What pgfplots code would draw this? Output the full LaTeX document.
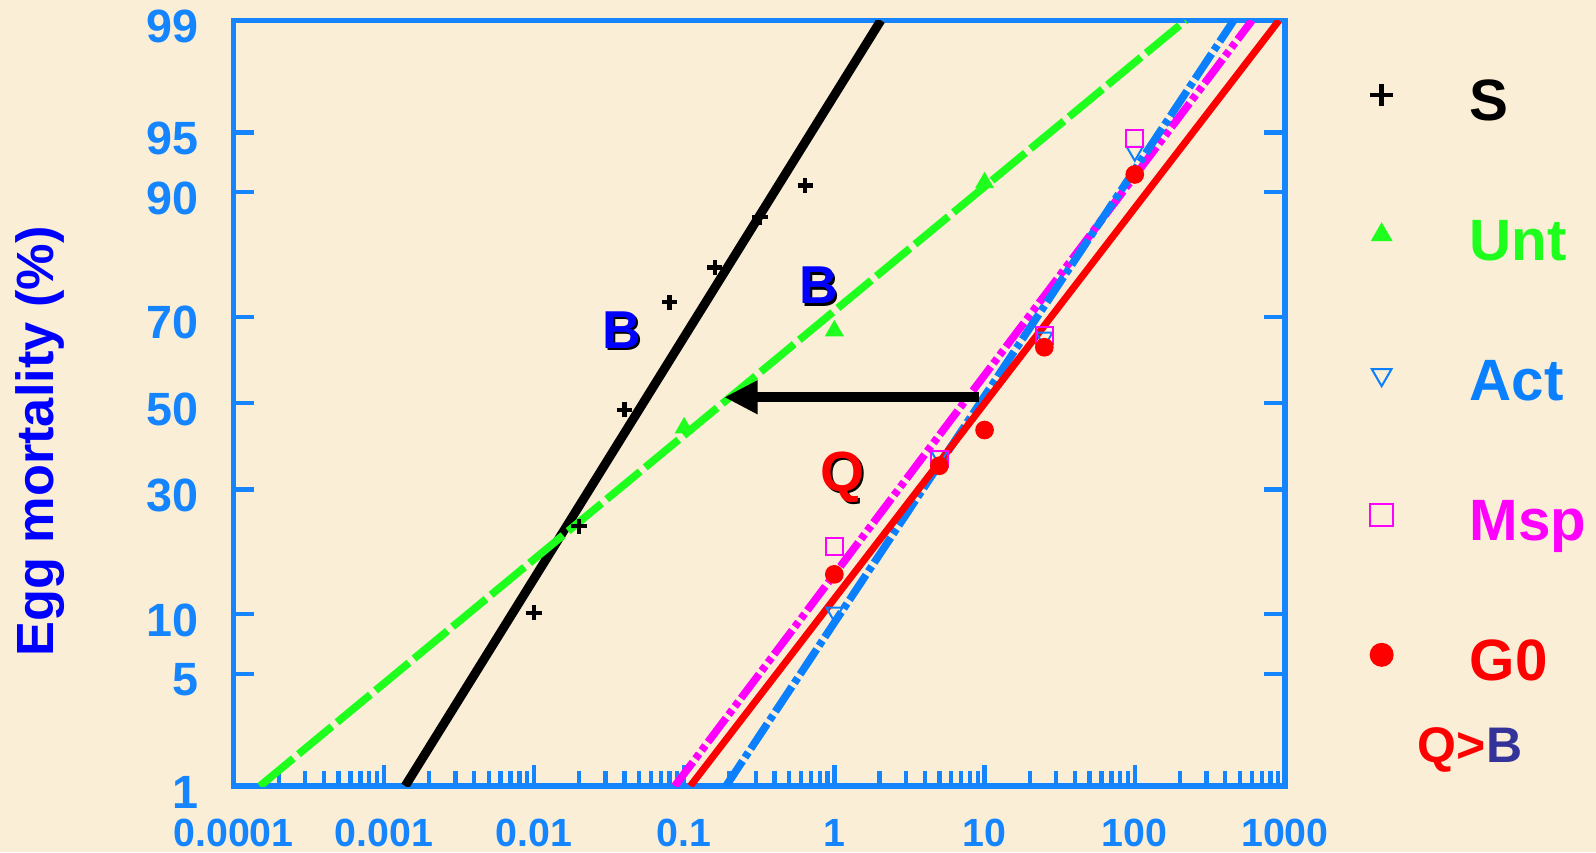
\documentclass[border=0pt]{standalone}
\usepackage{fontspec}
\setmainfont{Liberation Sans}
\usepackage{pgfplots}
\pgfplotsset{compat=1.18}
\usetikzlibrary{arrows.meta}

\definecolor{bgbeige}{RGB}{250,239,214}
\definecolor{axblue}{RGB}{20,132,255}
\definecolor{untgreen}{RGB}{30,255,30}
\definecolor{actblue}{RGB}{10,128,255}
\definecolor{mspmag}{RGB}{255,0,255}
\definecolor{qbblue}{RGB}{51,51,153}

% y values are probits (normal quantiles) of the mortality percentage
\begin{document}
\begin{tikzpicture}
\fill[bgbeige, use as bounding box] (-70.05pt,-19.8pt) rectangle (408.75pt,235.8pt);
\begin{axis}[
    at={(0,0)}, anchor=south west,
    scale only axis, width=315.45pt, height=229.68pt,
    xmode=log, xmin=1e-4, xmax=1000,
    ymin=-2.3263, ymax=2.3263,
    clip mode=individual,
    axis line style={axblue, line width=1.6pt},
    every tick/.style={axblue, line width=1.3pt},
    major tick length=6.2pt, minor tick length=4.6pt,
    tick align=inside,
    xtick pos=left, ytick pos=both, yticklabel pos=left,
    xtick={1e-4,1e-3,0.01,0.1,1,10,100,1000},
    xticklabels={0.0001,0.001,0.01,0.1,1,10,100,1000},
    minor xtick={2e-4,3e-4,4e-4,5e-4,6e-4,7e-4,8e-4,9e-4,
                 2e-3,3e-3,4e-3,5e-3,6e-3,7e-3,8e-3,9e-3,
                 0.02,0.03,0.04,0.05,0.06,0.07,0.08,0.09,
                 0.2,0.3,0.4,0.5,0.6,0.7,0.8,0.9,
                 2,3,4,5,6,7,8,9,
                 20,30,40,50,60,70,80,90,
                 200,300,400,500,600,700,800,900},
    ytick={-2.3263,-1.6449,-1.2816,-0.5244,0,0.5244,1.2816,1.6449,2.3263},
    yticklabels={1,5,10,30,50,70,90,95,99},
    /pgf/number format/assume math mode=true,
    xticklabel style={font=\bfseries\fontsize{11.8}{11.8}\selectfont, text=axblue, anchor=base, yshift=-18pt},
    yticklabel style={font=\bfseries\fontsize{14}{14}\selectfont, text=axblue, anchor=east, inner sep=0pt, xshift=-10.2pt, yshift=-1.8pt},
    ylabel={Egg mortality (\%)},
    ylabel style={font=\bfseries\fontsize{15.7}{15.7}\selectfont, text=blue, at={(axis description cs:-0.184,0.45)}, anchor=center},
    legend image code/.code={\draw[#1, mark size=3.4pt] plot coordinates {(0pt,3.3pt)};},
    legend style={at={(axis description cs:1.071,0.935)}, anchor=north west,
        draw=none, fill=none, row sep=25pt, column sep=23pt,
        font=\bfseries\fontsize{17.5}{17.5}\selectfont,
        nodes={inner sep=0pt, text height=13pt, text depth=4pt}},
    legend cell align=left,
]
% fitted probit lines
\addplot[black, line width=2.7pt, forget plot] coordinates {(0.00139,-2.3263) (2.04,2.3263)};
\addplot[untgreen, line width=2.3pt, dash pattern=on 13pt off 2pt, forget plot] coordinates {(1.5e-4,-2.3263) (218,2.3263)};
\addplot[mspmag, line width=2.3pt, dash pattern=on 9pt off 1.3pt on 1.8pt off 1.3pt on 1.8pt off 1.3pt, forget plot] coordinates {(0.0867,-2.3263) (603,2.3263)};
\addplot[actblue, line width=2.3pt, dash pattern=on 9pt off 1.3pt on 1.8pt off 1.3pt, forget plot] coordinates {(0.19,-2.3263) (456,2.3263)};
\addplot[red, line width=2.1pt, forget plot] coordinates {(0.11,-2.3263) (912,2.3263)};

% observed points
\addplot[only marks, mark=+, mark size=2.3pt, black, line width=1.3pt] coordinates {
    (0.01,-1.273) (0.02,-0.748) (0.04,-0.04) (0.08,0.614) (0.16,0.825) (0.32,1.13) (0.64,1.323)};
\addlegendentry{\textcolor{black}{S}}
\addplot[only marks, mark=triangle*, mark size=2.9pt, untgreen] coordinates {
    (0.1,-0.15) (1,0.44) (10,1.34)};
\addlegendentry{\textcolor{untgreen}{Unt}}
\addplot[only marks, mark=triangle, mark options={rotate=180}, mark size=2.8pt, actblue, line width=0.6pt] coordinates {
    (1,-1.27) (5,-0.32) (25,0.40) (100,1.53)};
\addlegendentry{\textcolor{actblue}{Act}}
\addplot[only marks, mark=square, mark size=2.5pt, mspmag, line width=0.6pt] coordinates {
    (1,-0.87) (5,-0.34) (25,0.41) (100,1.61)};
\addlegendentry{\textcolor{mspmag}{Msp}}
\addplot[only marks, mark=*, mark size=2.6pt, red] coordinates {
    (1,-1.04) (5,-0.38) (10,-0.163) (25,0.34) (100,1.39)};
\addlegendentry{\textcolor{red}{G0}}

% annotations
\draw[line width=3pt, -{Triangle[length=10pt, width=9.5pt]}] (axis cs:9.18,0.036) -- (axis cs:0.185,0.036);
\begin{scope}[font=\bfseries\fontsize{16}{16}\selectfont]
\node[text=black, xshift=0.7pt, yshift=-0.7pt] at (axis cs:0.0383,0.443) {B};
\node[text=blue] at (axis cs:0.0383,0.443) {B};
\node[text=black, xshift=0.7pt, yshift=-0.7pt] at (axis cs:0.782,0.716) {B};
\node[text=blue] at (axis cs:0.782,0.716) {B};
\end{scope}
\node[text=black, xshift=0.7pt, yshift=-0.7pt, font=\bfseries\fontsize{17}{17}\selectfont] at (axis cs:1.13,-0.45) {Q};
\node[text=red, font=\bfseries\fontsize{17}{17}\selectfont] at (axis cs:1.13,-0.45) {Q};
\node[anchor=base, font=\bfseries\fontsize{15}{15}\selectfont] at (axis description cs:1.176,0.0313) {\textcolor{red}{Q>}\textcolor{qbblue}{B}};
\end{axis}
\end{tikzpicture}
\end{document}
